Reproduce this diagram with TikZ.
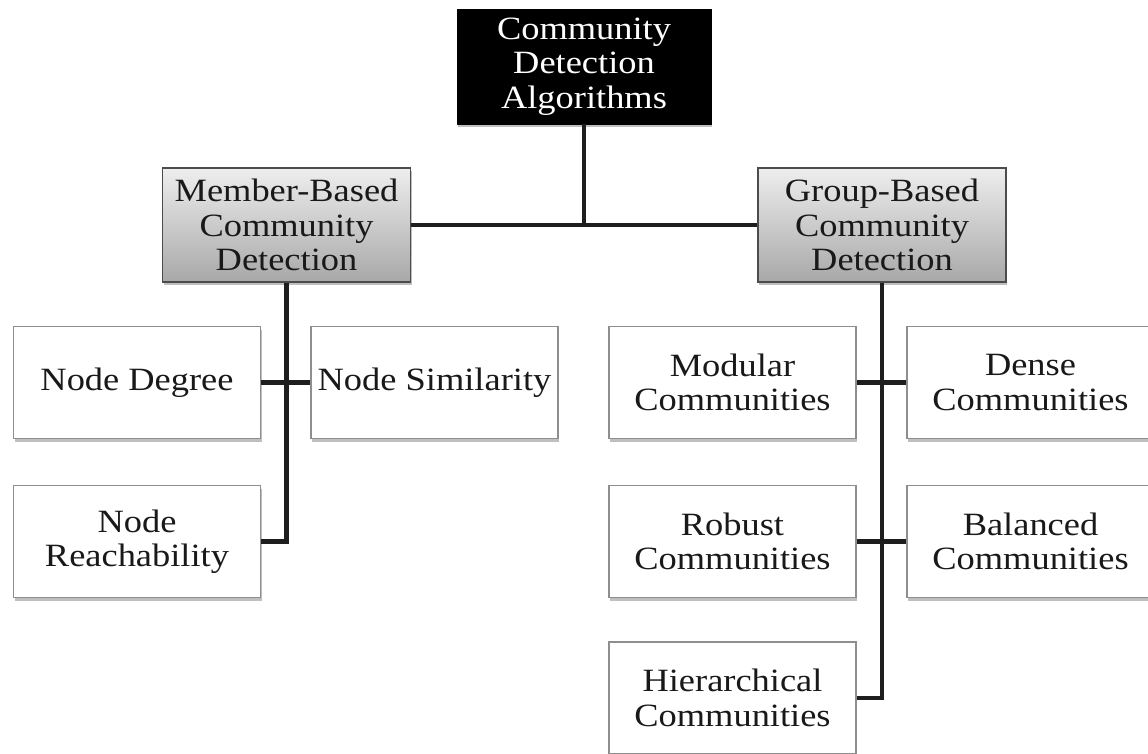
\documentclass[tikz,border=0pt]{standalone}
\usepackage{fontspec}
\setmainfont{Liberation Serif}[FakeStretch=1.12]
\usepackage{tikz}
\usetikzlibrary{shadows}
\definecolor{boxline}{HTML}{8E8E8E}
\definecolor{graytop}{HTML}{EEEEEE}
\definecolor{graybot}{HTML}{A8A8A8}
\definecolor{linkcol}{HTML}{1E1E1E}
\tikzstyle{box} = [rectangle, inner sep=0pt, align=center, text=black!90, font=\fontsize{18.5pt}{19.5pt}\selectfont, drop shadow={shadow xshift=0.6pt, shadow yshift=-1.8pt, opacity=0.5, fill=gray}]
\tikzstyle{rootbox} = [box, minimum width=5.08cm, minimum height=2.3cm, fill=black, draw=black, text=white]
\tikzstyle{groupbox} = [box, minimum width=4.96cm, minimum height=2.28cm, top color=graytop, bottom color=graybot, draw=black!70, line width=0.8pt]
\tikzstyle{leafbox} = [box, minimum width=4.94cm, minimum height=2.24cm, fill=white, draw=boxline, line width=0.8pt]
\tikzstyle{link} = [line width=2.8pt, draw=linkcol]

\begin{document}
\begin{tikzpicture}
                    \useasboundingbox (0, 0) rectangle (22.96, -15.08);
                    \node [rootbox] (root) at (11.68, -1.33) {Community\\Detection\\Algorithms};
                    \node [groupbox] (member) at (5.73, -4.5) {Member-Based\\Community\\Detection};
                    \node [groupbox] (group) at (17.64, -4.5) {Group-Based\\Community\\Detection};
                    \node [leafbox] (degree) at (2.74, -7.65) {Node Degree};
                    \node [leafbox] (similarity) at (8.69, -7.65) {Node Similarity};
                    \node [leafbox] (reach) at (2.74, -10.83) {Node\\Reachability};
                    \node [leafbox] (modular) at (14.65, -7.65) {Modular\\Communities};
                    \node [leafbox] (dense) at (20.61, -7.65) {Dense\\Communities};
                    \node [leafbox] (robust) at (14.65, -10.83) {Robust\\Communities};
                    \node [leafbox] (balanced) at (20.61, -10.83) {Balanced\\Communities};
                    \node [leafbox] (hier) at (14.65, -13.96) {Hierarchical\\Communities};
                    \draw [link] (member.east) -- (group.west);
                    \draw [link] (root.south) -- (root.south |- member.east);
                    \draw [link] (member.south) |- (reach.east);
                    \draw [link] (degree.east) -- (similarity.west);
                    \draw [link] (group.south) |- (hier.east);
                    \draw [link] (modular.east) -- (dense.west);
                    \draw [link] (robust.east) -- (balanced.west);
                \end{tikzpicture}
\end{document}
